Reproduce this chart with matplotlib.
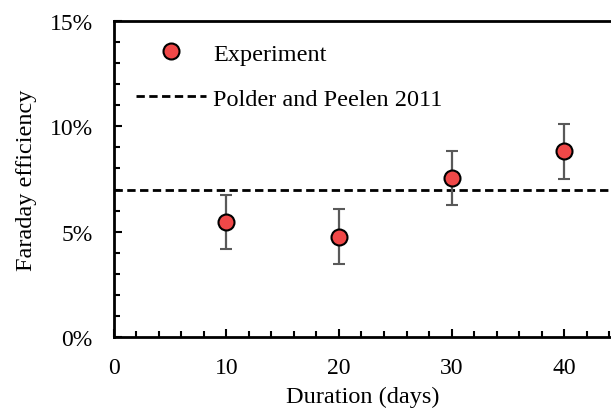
import numpy as np
import matplotlib
matplotlib.use("Agg")
import matplotlib.pyplot as plt
from matplotlib.ticker import MultipleLocator, FuncFormatter
from matplotlib.lines import Line2D

# data
days = [10, 20, 30, 40]
efficiency = [5.45, 4.77, 7.55, 8.81]   # percent
error = [1.29, 1.30, 1.30, 1.30]
polder_peelen = 7.0

plt.rcParams['font.family'] = ['Liberation Serif', 'DejaVu Serif']

fig = plt.figure(figsize=(6.11, 4.10), dpi=100)
ax = fig.add_axes([0.186, 0.175, 0.814, 0.772])

dash = (0, (3, 1.6))
ax.axhline(polder_peelen, color='black', lw=2.0, ls=dash)
ax.errorbar(days, efficiency, yerr=error, fmt='o', color='#f04848',
            mec='black', mew=1.5, ms=11.5, ecolor='#595959', elinewidth=1.6,
            capsize=4.2, capthick=1.6, zorder=3)

ax.set_xlim(0, 44.15)
ax.set_ylim(0, 15)
ax.xaxis.set_major_locator(MultipleLocator(10))
ax.xaxis.set_minor_locator(MultipleLocator(2))
ax.yaxis.set_major_locator(MultipleLocator(5))
ax.yaxis.set_minor_locator(MultipleLocator(1))
ax.yaxis.set_major_formatter(FuncFormatter(lambda v, p: '%d%%' % v))

ax.tick_params(which='both', direction='in', width=1.5, labelsize=17)
ax.tick_params(which='major', length=6)
ax.tick_params(which='minor', length=4)
ax.tick_params(axis='y', pad=15)
ax.tick_params(axis='x', pad=14)
ax.tick_params(axis='y', which='both', right=False)
ax.tick_params(axis='x', which='both', top=False)

for s in ['left', 'bottom', 'top']:
    ax.spines[s].set_linewidth(2)
ax.spines['right'].set_visible(False)

ax.set_xlabel('Duration (days)', fontsize=17.5, labelpad=6)
ax.set_ylabel('Faraday efficiency', fontsize=17.5, labelpad=9)

handles = [
    Line2D([], [], ls='none', marker='o', color='#f04848', mec='black',
           mew=1.5, ms=11.5),
    Line2D([], [], color='black', lw=2.0, ls=dash),
]
labels = ['Experiment', 'Polder and Peelen 2011']
ax.legend(handles, labels, loc='upper left', frameon=False,
          fontsize=17.5, handlelength=2.9, handletextpad=0.3,
          labelspacing=0.95, bbox_to_anchor=(0.0, 1.0), borderaxespad=0.5,
          borderpad=0.4)

fig.savefig('out.png', dpi=100)
